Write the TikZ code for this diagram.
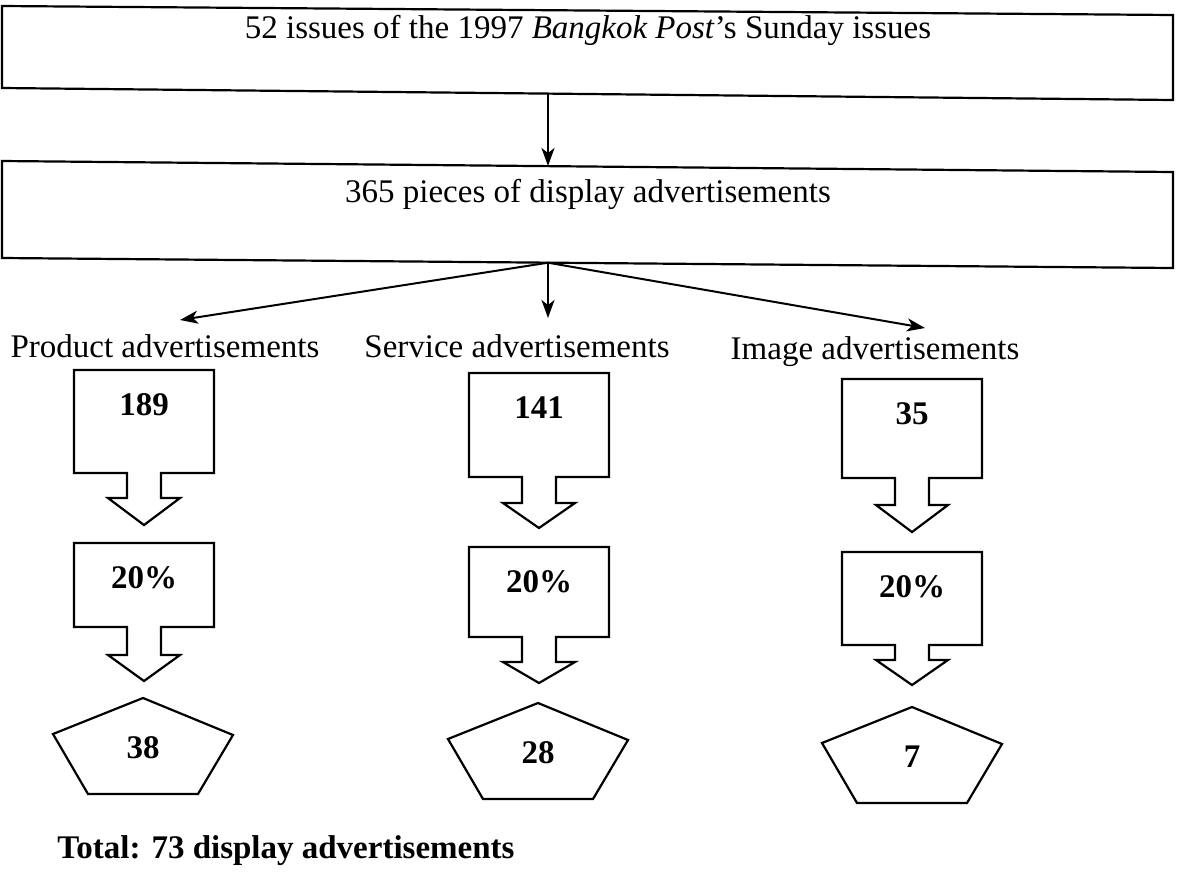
\documentclass[tikz,border=0pt]{standalone}
\usepackage{fontspec}
\setmainfont{Liberation Serif}
\usetikzlibrary{arrows.meta}
\newcommand\mycallout[5]{%
  \draw[shapeline] (#1-70,#2) -- (#1+70,#2) -- (#1+70,#3) -- (#1+17,#3) -- (#1+17,#4)
    -- (#1+36,#4) -- (#1,#5) -- (#1-36,#4) -- (#1-17,#4) -- (#1-17,#3) -- (#1-70,#3) -- cycle;}
\newcommand\mypent[2]{%
  \draw[shapeline] (#1,#2) -- (#1+90,#2+37) -- (#1+55,#2+96) -- (#1-55,#2+96) -- (#1-90,#2+36) -- cycle;}
\begin{document}
\begin{tikzpicture}[x=0.5pt,y=-0.5pt,
  txt/.style={font=\fontsize{16.5}{20}\selectfont, inner sep=0pt, anchor=base},
  num/.style={inner sep=0pt, anchor=base, font=\fontsize{16.5}{20}\selectfont\bfseries},
  arr/.style={-{Stealth[length=9pt,width=6.5pt,inset=2.5pt]}, line width=1pt},
  shapeline/.style={draw, line width=1.1pt, line join=miter}]
\useasboundingbox (0,0) rectangle (1179,879);

% top boxes (the scan is slightly tilted)
\draw[shapeline] (2,6) -- (1173,15) -- (1173,100) -- (2,88) -- cycle;
\node[txt] (t1) at (588,38) {52 issues of the 1997 \textit{Bangkok Post}’s Sunday issues};
\draw[shapeline] (2,161) -- (1173,172) -- (1173,268) -- (2,258) -- cycle;
\node[txt] (t2) at (588,202) {365 pieces of display advertisements};

\coordinate (b1s) at (548,93.6);
\coordinate (b2n) at (548,166);
\coordinate (br) at (548,262.7);
\draw[arr] (b1s) -- (b2n);

% category labels
\node[txt] (lp) at (165,357) {Product advertisements};
\node[txt] (ls) at (517,357) {Service advertisements};
\node[txt] (li) at (875,359) {Image advertisements};

\coordinate (tipL) at (180,320);
\coordinate (tipM) at (548,318);
\coordinate (tipR) at (925,328);
\draw[arr] (br) -- (tipL);
\draw[arr] (br) -- (tipM);
\draw[arr] (br) -- (tipR);

% column 1
\mycallout{144}{370}{473}{498}{525}
\node[num] (n1a) at (144,415) {189};
\mycallout{144}{543}{627}{655}{681}
\node[num] (n1b) at (144,588) {20\%};
\mypent{143}{698}
\node[num] (n1c) at (143,758) {38};

% column 2
\mycallout{539}{373}{477}{503}{528}
\node[num] (n2a) at (539,418) {141};
\mycallout{539}{547}{637}{662}{683}
\node[num] (n2b) at (539,592) {20\%};
\mypent{538}{703}
\node[num] (n2c) at (538,763) {28};

% column 3
\mycallout{912}{379}{478}{505}{532}
\node[num] (n3a) at (912,424) {35};
\mycallout{912}{552}{645}{660}{685}
\node[num] (n3b) at (912,597) {20\%};
\mypent{912}{707}
\node[num] (n3c) at (912,767) {7};

\node[num, anchor=base west] (tot) at (57,858) {Total: 73 display advertisements};
\end{tikzpicture}
\end{document}
